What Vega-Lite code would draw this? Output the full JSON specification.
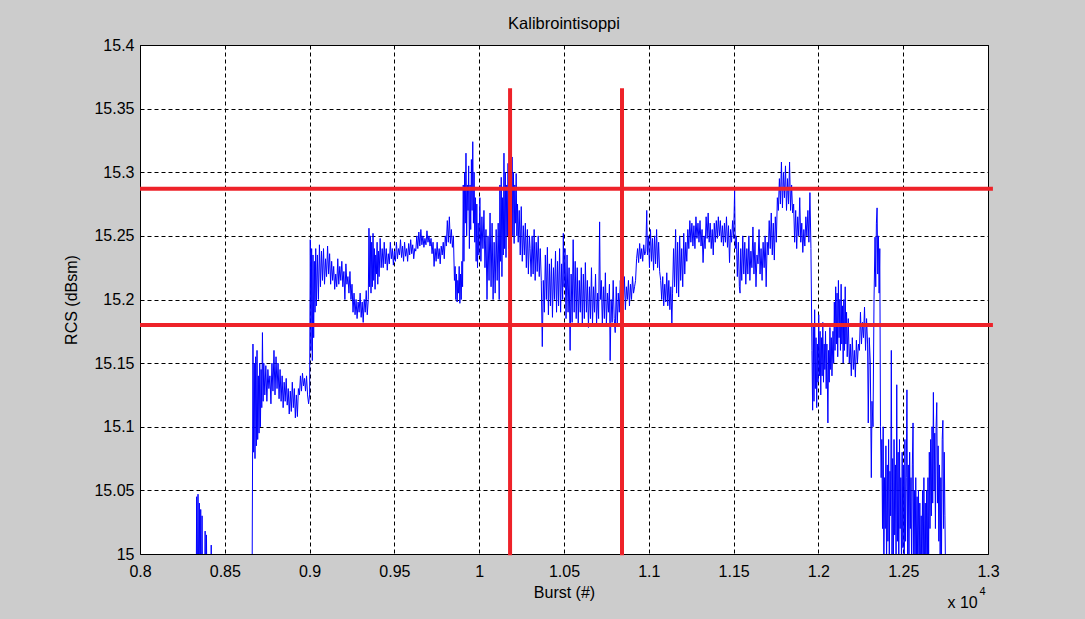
{
"$schema": "https://vega.github.io/schema/vega-lite/v6.json",
"autosize": {"type": "none"},
"width": 848,
"height": 509,
"padding": {"left": 140, "top": 45, "right": 97, "bottom": 65},
"background": "#cccccc",
"title": {"text": "Kalibrointisoppi", "offset": 5},
"datasets": {
"rcs": [
{"b":8300,"v":14.9},{"b":8330,"v":14.93},{"b":8334,"v":15.045},{"b":8338,"v":14.96},{"b":8342,"v":15.047},{"b":8346,"v":14.97},{"b":8350,"v":15.04},{"b":8354,"v":14.96},{"b":8358,"v":15.035},{"b":8362,"v":14.95},{"b":8366,"v":15.03},{"b":8370,"v":14.94},{"b":8380,"v":14.95},{"b":8384,"v":15.018},{"b":8388,"v":14.95},{"b":8392,"v":15.015},{"b":8396,"v":14.94},{"b":8416,"v":14.95},{"b":8420,"v":15.007},{"b":8424,"v":14.94},{"b":8450,"v":14.92},{"b":8550,"v":14.93},{"b":8660,"v":14.94},
{"b":8666,"v":15.165},{"b":8670,"v":15.08},{"b":8674,"v":15.15},{"b":8678,"v":15.075},{"b":8682,"v":15.155},{"b":8686,"v":15.085},{"b":8690,"v":15.16},{"b":8694,"v":15.09},{"b":8698,"v":15.14},{"b":8702,"v":15.095},{"b":8706,"v":15.15},{"b":8710,"v":15.1},{"b":8714,"v":15.145},{"b":8718,"v":15.115},{"b":8722,"v":15.174},{"b":8726,"v":15.12},{"b":8730,"v":15.15},{"b":8736,"v":15.125},{"b":8742,"v":15.148},{"b":8748,"v":15.12},{"b":8754,"v":15.145},{"b":8760,"v":15.13},{"b":8766,"v":15.14},{"b":8772,"v":15.118},{"b":8778,"v":15.15},{"b":8784,"v":15.128},{"b":8790,"v":15.16},{"b":8796,"v":15.125},{"b":8802,"v":15.155},{"b":8808,"v":15.13},{"b":8814,"v":15.15},{"b":8820,"v":15.122},{"b":8826,"v":15.145},{"b":8832,"v":15.12},{"b":8838,"v":15.14},{"b":8844,"v":15.115},{"b":8850,"v":15.135},{"b":8856,"v":15.12},{"b":8862,"v":15.138},{"b":8868,"v":15.117},{"b":8874,"v":15.13},{"b":8880,"v":15.11},{"b":8886,"v":15.128},{"b":8892,"v":15.112},{"b":8898,"v":15.135},{"b":8904,"v":15.115},{"b":8910,"v":15.13},{"b":8916,"v":15.107},{"b":8922,"v":15.125},{"b":8928,"v":15.108},{"b":8934,"v":15.13},{"b":8940,"v":15.125},{"b":8946,"v":15.14},{"b":8952,"v":15.128},{"b":8958,"v":15.142},{"b":8964,"v":15.132},{"b":8970,"v":15.138},{"b":8976,"v":15.128},{"b":8982,"v":15.14},{"b":8988,"v":15.125},{"b":8994,"v":15.118},{"b":9000,"v":15.125},
{"b":9004,"v":15.247},{"b":9008,"v":15.16},{"b":9012,"v":15.24},{"b":9016,"v":15.152},{"b":9020,"v":15.235},{"b":9024,"v":15.17},{"b":9028,"v":15.23},{"b":9032,"v":15.19},{"b":9036,"v":15.24},{"b":9040,"v":15.195},{"b":9046,"v":15.235},{"b":9052,"v":15.2},{"b":9058,"v":15.243},{"b":9064,"v":15.21},{"b":9070,"v":15.238},{"b":9076,"v":15.215},{"b":9082,"v":15.24},{"b":9088,"v":15.212},{"b":9094,"v":15.232},{"b":9100,"v":15.218},{"b":9106,"v":15.242},{"b":9112,"v":15.22},{"b":9118,"v":15.236},{"b":9124,"v":15.212},{"b":9130,"v":15.23},{"b":9136,"v":15.215},{"b":9142,"v":15.226},{"b":9148,"v":15.208},{"b":9154,"v":15.22},{"b":9160,"v":15.21},{"b":9166,"v":15.232},{"b":9172,"v":15.212},{"b":9178,"v":15.226},{"b":9184,"v":15.215},{"b":9190,"v":15.23},{"b":9196,"v":15.21},{"b":9202,"v":15.222},{"b":9208,"v":15.2},{"b":9214,"v":15.228},{"b":9220,"v":15.212},{"b":9226,"v":15.218},{"b":9232,"v":15.205},{"b":9238,"v":15.222},{"b":9244,"v":15.2},{"b":9250,"v":15.212},{"b":9256,"v":15.19},{"b":9262,"v":15.205},{"b":9268,"v":15.188},{"b":9274,"v":15.2},{"b":9280,"v":15.185},{"b":9286,"v":15.198},{"b":9292,"v":15.19},{"b":9298,"v":15.205},{"b":9304,"v":15.186},{"b":9310,"v":15.198},{"b":9316,"v":15.182},{"b":9322,"v":15.2},{"b":9328,"v":15.19},{"b":9334,"v":15.207},{"b":9340,"v":15.188},{"b":9346,"v":15.2},
{"b":9350,"v":15.256},{"b":9354,"v":15.21},{"b":9358,"v":15.25},{"b":9362,"v":15.205},{"b":9366,"v":15.245},{"b":9370,"v":15.21},{"b":9374,"v":15.252},{"b":9378,"v":15.215},{"b":9382,"v":15.24},{"b":9386,"v":15.208},{"b":9390,"v":15.235},{"b":9394,"v":15.22},{"b":9398,"v":15.245},{"b":9402,"v":15.212},{"b":9406,"v":15.238},{"b":9410,"v":15.218},{"b":9416,"v":15.248},{"b":9422,"v":15.225},{"b":9428,"v":15.24},{"b":9434,"v":15.225},{"b":9440,"v":15.245},{"b":9446,"v":15.228},{"b":9452,"v":15.24},{"b":9458,"v":15.223},{"b":9464,"v":15.236},{"b":9470,"v":15.228},{"b":9476,"v":15.245},{"b":9482,"v":15.232},{"b":9488,"v":15.24},{"b":9494,"v":15.227},{"b":9500,"v":15.238},{"b":9506,"v":15.23},{"b":9512,"v":15.245},{"b":9518,"v":15.232},{"b":9524,"v":15.24},{"b":9530,"v":15.235},{"b":9536,"v":15.247},{"b":9542,"v":15.233},{"b":9548,"v":15.242},{"b":9554,"v":15.23},{"b":9560,"v":15.245},{"b":9566,"v":15.234},{"b":9572,"v":15.24},{"b":9578,"v":15.23},{"b":9584,"v":15.244},{"b":9590,"v":15.235},{"b":9596,"v":15.247},{"b":9602,"v":15.236},{"b":9608,"v":15.243},{"b":9614,"v":15.232},{"b":9620,"v":15.24},{"b":9626,"v":15.238},{"b":9632,"v":15.25},{"b":9638,"v":15.24},{"b":9644,"v":15.253},{"b":9650,"v":15.242},{"b":9656,"v":15.255},{"b":9662,"v":15.243},{"b":9668,"v":15.25},{"b":9674,"v":15.241},{"b":9680,"v":15.248},{"b":9686,"v":15.243},{"b":9692,"v":15.254},{"b":9698,"v":15.245},{"b":9704,"v":15.25},{"b":9710,"v":15.242},{"b":9716,"v":15.248},{"b":9722,"v":15.236},{"b":9728,"v":15.245},{"b":9734,"v":15.226},{"b":9740,"v":15.24},{"b":9746,"v":15.23},{"b":9752,"v":15.245},{"b":9758,"v":15.232},{"b":9764,"v":15.24},{"b":9770,"v":15.228},{"b":9776,"v":15.242},{"b":9782,"v":15.235},{"b":9788,"v":15.245},{"b":9794,"v":15.232},{"b":9800,"v":15.25},{"b":9806,"v":15.242},{"b":9812,"v":15.262},{"b":9818,"v":15.245},{"b":9824,"v":15.265},{"b":9830,"v":15.244},{"b":9836,"v":15.255},{"b":9842,"v":15.241},{"b":9848,"v":15.25},{"b":9854,"v":15.215},{"b":9858,"v":15.226},{"b":9862,"v":15.2},{"b":9866,"v":15.22},{"b":9870,"v":15.198},{"b":9874,"v":15.215},{"b":9878,"v":15.205},{"b":9882,"v":15.226},{"b":9886,"v":15.197},{"b":9890,"v":15.22},{"b":9894,"v":15.2},{"b":9898,"v":15.23},{"b":9902,"v":15.21},
{"b":9906,"v":15.29},{"b":9910,"v":15.23},{"b":9914,"v":15.3},{"b":9918,"v":15.26},{"b":9922,"v":15.315},{"b":9926,"v":15.25},{"b":9930,"v":15.29},{"b":9934,"v":15.27},{"b":9938,"v":15.305},{"b":9942,"v":15.24},{"b":9946,"v":15.29},{"b":9950,"v":15.255},{"b":9954,"v":15.31},{"b":9958,"v":15.27},{"b":9962,"v":15.324},{"b":9966,"v":15.26},{"b":9970,"v":15.3},{"b":9974,"v":15.245},{"b":9978,"v":15.28},{"b":9982,"v":15.23},{"b":9986,"v":15.275},{"b":9990,"v":15.225},{"b":9994,"v":15.26},{"b":9998,"v":15.235},{"b":10004,"v":15.28},{"b":10010,"v":15.23},{"b":10016,"v":15.265},{"b":10022,"v":15.24},{"b":10028,"v":15.27},{"b":10034,"v":15.225},{"b":10040,"v":15.255},{"b":10046,"v":15.2},{"b":10052,"v":15.25},{"b":10058,"v":15.215},{"b":10064,"v":15.268},{"b":10070,"v":15.21},{"b":10076,"v":15.26},{"b":10082,"v":15.2},{"b":10088,"v":15.245},{"b":10094,"v":15.205},{"b":10100,"v":15.255},{"b":10106,"v":15.215},{"b":10112,"v":15.26},{"b":10118,"v":15.2},{"b":10122,"v":15.29},{"b":10126,"v":15.23},{"b":10130,"v":15.296},{"b":10134,"v":15.218},{"b":10138,"v":15.28},{"b":10142,"v":15.235},{"b":10146,"v":15.315},{"b":10150,"v":15.24},{"b":10154,"v":15.3},{"b":10158,"v":15.233},{"b":10162,"v":15.29},{"b":10166,"v":15.25},{"b":10170,"v":15.307},{"b":10174,"v":15.24},{"b":10178,"v":15.3},{"b":10182,"v":15.26},{"b":10186,"v":15.295},{"b":10190,"v":15.245},{"b":10194,"v":15.312},{"b":10198,"v":15.25},{"b":10202,"v":15.3},{"b":10206,"v":15.244},{"b":10210,"v":15.29},{"b":10214,"v":15.26},{"b":10218,"v":15.299},{"b":10222,"v":15.25},{"b":10226,"v":15.275},{"b":10230,"v":15.245},{"b":10236,"v":15.27},{"b":10242,"v":15.235},{"b":10248,"v":15.273},{"b":10254,"v":15.23},{"b":10260,"v":15.258},{"b":10266,"v":15.235},{"b":10272,"v":15.26},{"b":10278,"v":15.225},{"b":10284,"v":15.255},{"b":10290,"v":15.22},{"b":10296,"v":15.25},
{"b":10300,"v":15.24},{"b":10306,"v":15.218},{"b":10312,"v":15.25},{"b":10318,"v":15.22},{"b":10324,"v":15.255},{"b":10330,"v":15.215},{"b":10336,"v":15.245},{"b":10342,"v":15.222},{"b":10348,"v":15.25},{"b":10354,"v":15.218},{"b":10360,"v":15.24},{"b":10366,"v":15.215},{"b":10372,"v":15.163},{"b":10378,"v":15.215},{"b":10384,"v":15.19},{"b":10390,"v":15.235},{"b":10396,"v":15.2},{"b":10402,"v":15.241},{"b":10408,"v":15.188},{"b":10414,"v":15.228},{"b":10420,"v":15.195},{"b":10426,"v":15.232},{"b":10432,"v":15.186},{"b":10438,"v":15.225},{"b":10444,"v":15.2},{"b":10450,"v":15.238},{"b":10456,"v":15.19},{"b":10462,"v":15.23},{"b":10468,"v":15.195},{"b":10474,"v":15.24},{"b":10480,"v":15.19},{"b":10486,"v":15.228},{"b":10492,"v":15.2},{"b":10496,"v":15.252},{"b":10500,"v":15.21},{"b":10506,"v":15.24},{"b":10512,"v":15.185},{"b":10518,"v":15.235},{"b":10524,"v":15.19},{"b":10530,"v":15.225},{"b":10536,"v":15.16},{"b":10542,"v":15.22},{"b":10548,"v":15.182},{"b":10554,"v":15.247},{"b":10560,"v":15.19},{"b":10566,"v":15.23},{"b":10572,"v":15.185},{"b":10578,"v":15.225},{"b":10584,"v":15.181},{"b":10590,"v":15.215},{"b":10596,"v":15.19},{"b":10602,"v":15.225},{"b":10608,"v":15.18},{"b":10614,"v":15.22},{"b":10620,"v":15.185},{"b":10626,"v":15.229},{"b":10632,"v":15.19},{"b":10638,"v":15.215},{"b":10644,"v":15.178},{"b":10650,"v":15.21},{"b":10656,"v":15.185},{"b":10662,"v":15.225},{"b":10668,"v":15.18},{"b":10674,"v":15.21},{"b":10680,"v":15.19},{"b":10686,"v":15.22},{"b":10692,"v":15.18},{"b":10698,"v":15.205},{"b":10704,"v":15.185},{"b":10710,"v":15.261},{"b":10714,"v":15.2},{"b":10720,"v":15.215},{"b":10726,"v":15.18},{"b":10732,"v":15.21},{"b":10738,"v":15.185},{"b":10744,"v":15.221},{"b":10750,"v":15.18},{"b":10756,"v":15.205},{"b":10762,"v":15.19},{"b":10768,"v":15.212},{"b":10772,"v":15.152},{"b":10778,"v":15.2},{"b":10784,"v":15.182},{"b":10790,"v":15.215},{"b":10796,"v":15.185},{"b":10802,"v":15.174},{"b":10808,"v":15.21},{"b":10814,"v":15.18},{"b":10820,"v":15.205},{"b":10826,"v":15.19},{"b":10832,"v":15.215},{"b":10838,"v":15.195},{"b":10844,"v":15.212},{"b":10850,"v":15.198},{"b":10856,"v":15.218},{"b":10862,"v":15.192},{"b":10868,"v":15.21},{"b":10874,"v":15.2},{"b":10880,"v":15.215},{"b":10886,"v":15.195},{"b":10892,"v":15.212},{"b":10898,"v":15.2},{"b":10904,"v":15.218},{"b":10910,"v":15.205},{"b":10916,"v":15.21},{"b":10922,"v":15.215},{"b":10928,"v":15.232},{"b":10934,"v":15.24},{"b":10940,"v":15.229},{"b":10946,"v":15.244},{"b":10952,"v":15.232},{"b":10958,"v":15.24},{"b":10964,"v":15.23},{"b":10970,"v":15.243},{"b":10976,"v":15.235},{"b":10982,"v":15.238},{"b":10988,"v":15.27},{"b":10992,"v":15.235},{"b":10998,"v":15.25},{"b":11004,"v":15.225},{"b":11010,"v":15.255},{"b":11016,"v":15.23},{"b":11022,"v":15.248},{"b":11028,"v":15.223},{"b":11034,"v":15.25},{"b":11040,"v":15.228},{"b":11046,"v":15.255},{"b":11052,"v":15.225},{"b":11058,"v":15.245},{"b":11064,"v":15.222},{"b":11070,"v":15.215},{"b":11076,"v":15.2},{"b":11082,"v":15.218},{"b":11088,"v":15.195},{"b":11094,"v":15.212},{"b":11100,"v":15.198},{"b":11106,"v":15.221},{"b":11112,"v":15.195},{"b":11118,"v":15.215},{"b":11124,"v":15.192},{"b":11130,"v":15.21},{"b":11136,"v":15.181},{"b":11140,"v":15.205},{"b":11146,"v":15.24},{"b":11152,"v":15.21},{"b":11158,"v":15.255},{"b":11164,"v":15.205},{"b":11170,"v":15.245},{"b":11176,"v":15.202},{"b":11182,"v":15.25},{"b":11188,"v":15.215},{"b":11194,"v":15.24},{"b":11200,"v":15.21},{"b":11206,"v":15.252},{"b":11212,"v":15.22},{"b":11218,"v":15.245},{"b":11224,"v":15.23},{"b":11230,"v":15.255},{"b":11236,"v":15.24},{"b":11242,"v":15.262},{"b":11248,"v":15.245},{"b":11254,"v":15.26},{"b":11260,"v":15.242},{"b":11266,"v":15.258},{"b":11272,"v":15.24},{"b":11278,"v":15.265},{"b":11284,"v":15.248},{"b":11290,"v":15.26},{"b":11296,"v":15.245},{"b":11302,"v":15.262},{"b":11308,"v":15.242},{"b":11314,"v":15.255},{"b":11320,"v":15.229},{"b":11326,"v":15.25},{"b":11332,"v":15.24},{"b":11338,"v":15.265},{"b":11344,"v":15.248},{"b":11350,"v":15.268},{"b":11356,"v":15.245},{"b":11362,"v":15.26},{"b":11368,"v":15.24},{"b":11374,"v":15.255},{"b":11380,"v":15.235},{"b":11386,"v":15.26},{"b":11392,"v":15.245},{"b":11398,"v":15.262},{"b":11404,"v":15.248},{"b":11410,"v":15.265},{"b":11416,"v":15.25},{"b":11422,"v":15.262},{"b":11428,"v":15.245},{"b":11434,"v":15.258},{"b":11440,"v":15.242},{"b":11446,"v":15.26},{"b":11452,"v":15.245},{"b":11458,"v":15.265},{"b":11464,"v":15.241},{"b":11470,"v":15.258},{"b":11476,"v":15.229},{"b":11482,"v":15.255},{"b":11488,"v":15.245},{"b":11494,"v":15.262},{"b":11500,"v":15.248},{"b":11506,"v":15.286},{"b":11510,"v":15.24},{"b":11516,"v":15.25},{"b":11522,"v":15.218},{"b":11528,"v":15.245},{"b":11534,"v":15.21},{"b":11538,"v":15.205},{"b":11542,"v":15.24},{"b":11548,"v":15.215},{"b":11554,"v":15.25},{"b":11560,"v":15.22},{"b":11566,"v":15.245},{"b":11572,"v":15.212},{"b":11578,"v":15.24},{"b":11584,"v":15.22},{"b":11590,"v":15.25},{"b":11596,"v":15.215},{"b":11602,"v":15.238},{"b":11608,"v":15.225},{"b":11614,"v":15.257},{"b":11620,"v":15.22},{"b":11626,"v":15.245},{"b":11632,"v":15.21},{"b":11638,"v":15.235},{"b":11644,"v":15.228},{"b":11650,"v":15.255},{"b":11656,"v":15.22},{"b":11662,"v":15.24},{"b":11668,"v":15.215},{"b":11674,"v":15.245},{"b":11680,"v":15.225},{"b":11686,"v":15.25},{"b":11692,"v":15.21},{"b":11698,"v":15.245},{"b":11704,"v":15.235},{"b":11710,"v":15.262},{"b":11716,"v":15.24},{"b":11722,"v":15.268},{"b":11728,"v":15.235},{"b":11734,"v":15.26},{"b":11740,"v":15.231},{"b":11746,"v":15.265},{"b":11752,"v":15.245},{"b":11758,"v":15.28},{"b":11764,"v":15.27},{"b":11770,"v":15.295},{"b":11776,"v":15.275},{"b":11782,"v":15.308},{"b":11788,"v":15.272},{"b":11794,"v":15.3},{"b":11800,"v":15.28},{"b":11806,"v":15.305},{"b":11812,"v":15.27},{"b":11818,"v":15.295},{"b":11824,"v":15.275},{"b":11830,"v":15.308},{"b":11836,"v":15.27},{"b":11842,"v":15.29},{"b":11848,"v":15.268},{"b":11854,"v":15.275},{"b":11860,"v":15.245},{"b":11866,"v":15.27},{"b":11872,"v":15.24},{"b":11878,"v":15.265},{"b":11884,"v":15.25},{"b":11890,"v":15.28},{"b":11896,"v":15.245},{"b":11902,"v":15.26},{"b":11908,"v":15.237},{"b":11914,"v":15.255},{"b":11920,"v":15.242},{"b":11926,"v":15.265},{"b":11932,"v":15.25},{"b":11938,"v":15.27},{"b":11944,"v":15.245},{"b":11950,"v":15.284},{"b":11956,"v":15.24},
{"b":11962,"v":15.16},{"b":11966,"v":15.113},{"b":11970,"v":15.18},{"b":11974,"v":15.12},{"b":11978,"v":15.192},{"b":11982,"v":15.13},{"b":11986,"v":15.17},{"b":11990,"v":15.115},{"b":11994,"v":15.165},{"b":11998,"v":15.135},{"b":12002,"v":15.188},{"b":12006,"v":15.14},{"b":12010,"v":15.175},{"b":12014,"v":15.125},{"b":12018,"v":15.17},{"b":12022,"v":15.14},{"b":12026,"v":15.182},{"b":12030,"v":15.135},{"b":12034,"v":15.165},{"b":12038,"v":15.145},{"b":12042,"v":15.175},{"b":12046,"v":15.13},{"b":12050,"v":15.165},{"b":12056,"v":15.103},{"b":12060,"v":15.16},{"b":12064,"v":15.135},{"b":12068,"v":15.178},{"b":12072,"v":15.145},{"b":12076,"v":15.17},{"b":12080,"v":15.14},{"b":12086,"v":15.175},{"b":12090,"v":15.15},{"b":12094,"v":15.198},{"b":12098,"v":15.16},{"b":12102,"v":15.21},{"b":12106,"v":15.165},{"b":12110,"v":15.205},{"b":12114,"v":15.155},{"b":12118,"v":15.215},{"b":12122,"v":15.17},{"b":12126,"v":15.2},{"b":12130,"v":15.16},{"b":12134,"v":15.212},{"b":12138,"v":15.165},{"b":12142,"v":15.195},{"b":12146,"v":15.15},{"b":12150,"v":15.2},{"b":12154,"v":15.16},{"b":12158,"v":15.21},{"b":12162,"v":15.165},{"b":12166,"v":15.19},{"b":12170,"v":15.155},{"b":12176,"v":15.185},{"b":12182,"v":15.15},{"b":12188,"v":15.165},{"b":12194,"v":15.14},{"b":12200,"v":15.17},{"b":12206,"v":15.145},{"b":12212,"v":15.16},{"b":12218,"v":15.139},{"b":12224,"v":15.168},{"b":12230,"v":15.15},{"b":12236,"v":15.165},{"b":12242,"v":15.16},{"b":12248,"v":15.19},{"b":12254,"v":15.165},{"b":12260,"v":15.182},{"b":12266,"v":15.17},{"b":12272,"v":15.194},{"b":12278,"v":15.16},{"b":12284,"v":15.185},{"b":12290,"v":15.165},{"b":12294,"v":15.103},{"b":12300,"v":15.17},{"b":12306,"v":15.15},{"b":12312,"v":15.06},{"b":12316,"v":15.12},{"b":12322,"v":15.1},{"b":12328,"v":15.2},{"b":12334,"v":15.249},{"b":12338,"v":15.21},{"b":12342,"v":15.26},{"b":12346,"v":15.272},{"b":12350,"v":15.22},{"b":12354,"v":15.25},{"b":12358,"v":15.205},{"b":12362,"v":15.24},{"b":12366,"v":15.1},{"b":12370,"v":15.06},{"b":12374,"v":15.09},{"b":12378,"v":15.02},{"b":12382,"v":15.1},{"b":12386,"v":14.98},{"b":12390,"v":15.06},{"b":12394,"v":15.02},{"b":12398,"v":15.085},{"b":12402,"v":14.99},{"b":12406,"v":15.07},{"b":12410,"v":15.01},{"b":12414,"v":15.09},{"b":12418,"v":14.99},{"b":12422,"v":15.065},{"b":12426,"v":15.03},{"b":12430,"v":15.16},{"b":12434,"v":15.0},{"b":12438,"v":15.075},{"b":12442,"v":14.98},{"b":12446,"v":15.09},{"b":12450,"v":15.015},{"b":12454,"v":15.07},{"b":12458,"v":15.0},{"b":12462,"v":15.133},{"b":12466,"v":15.01},{"b":12470,"v":15.08},{"b":12474,"v":14.98},{"b":12478,"v":15.09},{"b":12482,"v":15.02},{"b":12486,"v":15.06},{"b":12490,"v":14.99},{"b":12494,"v":15.08},{"b":12498,"v":15.005},{"b":12502,"v":15.07},{"b":12506,"v":14.98},{"b":12510,"v":15.09},{"b":12514,"v":15.01},{"b":12518,"v":15.06},{"b":12522,"v":15.129},{"b":12526,"v":15.0},{"b":12530,"v":15.07},{"b":12534,"v":14.99},{"b":12538,"v":15.08},{"b":12542,"v":15.02},{"b":12546,"v":15.06},{"b":12550,"v":14.98},{"b":12554,"v":15.07},{"b":12558,"v":15.103},{"b":12562,"v":14.99},{"b":12566,"v":15.05},{"b":12570,"v":14.98},{"b":12574,"v":15.06},{"b":12578,"v":15.0},{"b":12582,"v":15.045},{"b":12586,"v":14.98},{"b":12590,"v":15.05},{"b":12594,"v":14.99},{"b":12598,"v":15.04},{"b":12602,"v":14.98},{"b":12606,"v":15.03},{"b":12610,"v":14.98},{"b":12614,"v":15.05},{"b":12618,"v":14.99},{"b":12622,"v":15.06},{"b":12626,"v":14.98},{"b":12630,"v":15.04},{"b":12634,"v":14.97},{"b":12638,"v":15.05},{"b":12642,"v":14.98},{"b":12646,"v":15.06},{"b":12650,"v":15.0},{"b":12654,"v":15.08},{"b":12658,"v":15.02},{"b":12662,"v":15.09},{"b":12666,"v":15.03},{"b":12670,"v":15.1},{"b":12674,"v":15.04},{"b":12678,"v":15.127},{"b":12682,"v":15.05},{"b":12686,"v":15.095},{"b":12690,"v":15.02},{"b":12694,"v":15.1},{"b":12698,"v":15.119},{"b":12702,"v":15.04},{"b":12706,"v":15.085},{"b":12710,"v":15.01},{"b":12714,"v":15.07},{"b":12718,"v":14.99},{"b":12722,"v":15.06},{"b":12726,"v":15.0},{"b":12730,"v":15.09},{"b":12734,"v":15.105},{"b":12738,"v":15.02},{"b":12742,"v":15.08},{"b":12746,"v":15.03},{"b":12750,"v":14.98},{"b":12754,"v":14.9}
],
"hlines": [{"level": 15.287}, {"level": 15.18}],
"vlines": [{"burst": 10182}, {"burst": 10842}],
"exponent": [{"base": "x 10", "sup": "4"}]
},
"layer": [
{
"data": {"name": "rcs"},
"mark": {"type": "line", "color": "#0000ff", "strokeWidth": 1, "clip": true, "interpolate": "linear"},
"encoding": {
"x": {"field": "b", "type": "quantitative",
"scale": {"domain": [8000, 13000], "nice": false, "zero": false},
"axis": {"title": "Burst (#)", "values": [8000, 8500, 9000, 9500, 10000, 10500, 11000, 11500, 12000, 12500, 13000], "labelExpr": "format(datum.value / 10000, '~g')", "labelPadding": 9, "titlePadding": 5, "labelFlush": false}},
"y": {"field": "v", "type": "quantitative",
"scale": {"domain": [15, 15.4], "nice": false, "zero": false},
"axis": {"title": "RCS (dBsm)", "values": [15, 15.05, 15.1, 15.15, 15.2, 15.25, 15.3, 15.35, 15.4], "format": "~g", "labelPadding": 6, "titlePadding": 14, "labelFlush": false}}
}
},
{
"data": {"name": "hlines"},
"mark": {"type": "rule", "color": "#ee2229", "strokeWidth": 4},
"encoding": {
"y": {"field": "level", "type": "quantitative"},
"x": {"datum": 8000},
"x2": {"datum": 13029}
}
},
{
"data": {"name": "vlines"},
"mark": {"type": "rule", "color": "#ee2229", "strokeWidth": 4},
"encoding": {
"x": {"field": "burst", "type": "quantitative"},
"y": {"datum": 15.366},
"y2": {"datum": 14.999}
}
},
{
"data": {"name": "exponent"},
"mark": {"type": "text", "fontSize": 16, "align": "center", "baseline": "middle", "color": "black", "font": "Liberation Sans"},
"encoding": {
"text": {"field": "base"},
"x": {"datum": 12850},
"y": {"datum": 14.9615}
}
},
{
"data": {"name": "exponent"},
"mark": {"type": "text", "fontSize": 11, "align": "center", "baseline": "middle", "color": "black", "font": "Liberation Sans"},
"encoding": {
"text": {"field": "sup"},
"x": {"datum": 12968},
"y": {"datum": 14.970}
}
}
],
"config": {
"view": {"fill": "white", "stroke": "black", "strokeWidth": 1},
"font": "Liberation Sans",
"axis": {"grid": true, "gridColor": "black", "gridDash": [4, 3], "gridOpacity": 1, "gridWidth": 1, "domain": false, "ticks": false, "tickSize": 0, "labelFont": "Liberation Sans", "labelFontSize": 16, "labelColor": "black", "titleFont": "Liberation Sans", "titleFontSize": 16, "titleFontWeight": "normal", "titleColor": "black"},
"title": {"font": "Liberation Sans", "fontSize": 16.5, "fontWeight": "normal", "color": "black", "anchor": "middle"}
}
}
